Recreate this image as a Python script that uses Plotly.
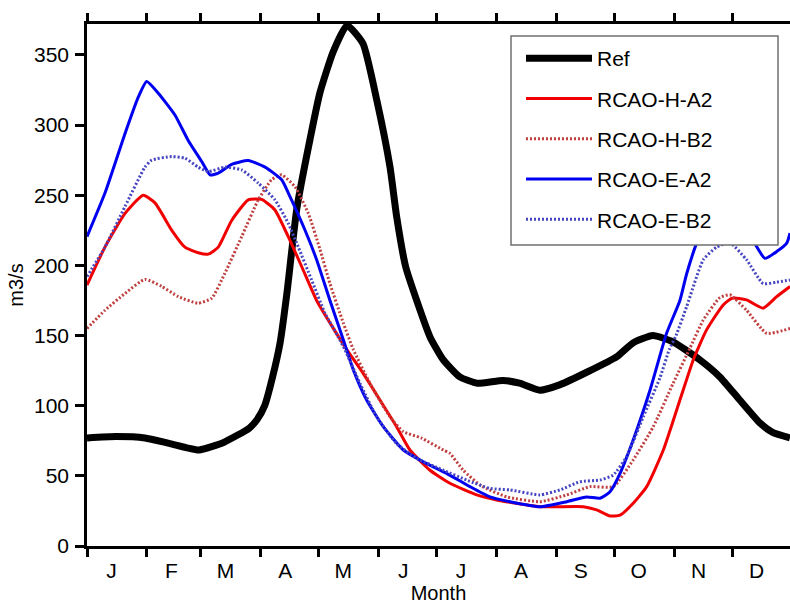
import plotly.graph_objects as go

# Day-of-year sample points and discharge (m3/s) for each series
ref_day = [0, 15, 30, 43, 58, 71, 84, 88, 92, 96, 100, 103.5, 108.6, 115.5, 120.6, 127.4,
           134.6, 142.9, 150, 156.9, 160.3, 165, 170.7, 177.6, 184.3, 193, 202, 215.4, 224,
           234.5, 245, 259, 274.4, 282.7, 293, 303.4, 317.4, 327.7, 338, 348.4, 355, 364]
ref_val = [77, 78, 77, 73, 68.5, 74, 84, 90, 100, 120, 145, 180, 240, 290, 323, 352,
           371, 358, 318, 270, 235, 199, 175, 149, 133, 120.5, 116, 118, 116,
           111, 115, 124, 135, 144.7, 150, 145.5, 132.6, 120.5, 104, 87.7, 81, 77]

ha2_day = [0, 9.3, 19.7, 29.1, 35.2, 43.9, 50.7, 57.6, 62.8, 68, 74.9, 83.5, 90.4, 97.3,
           104.2, 111.2, 118.9, 125.8, 134.5, 143, 151.7, 160.3, 167.2, 177.6, 187.9, 201.8,
           212.1, 234.5, 257, 263.9, 270.8, 276, 282.8, 289.8, 298.4, 307, 313.9, 320.8,
           329.4, 334, 341.5, 350.1, 357.1, 364]
ha2_val = [186, 213, 237, 250, 244.5, 225, 213, 209, 208, 213, 232, 246.7, 247, 239.5,
           220.5, 199, 175, 159, 140, 123, 104, 85, 68.4, 54, 44.7, 36.4,
           32.8, 28, 28, 25.7, 21.4, 22, 30.4, 42.3, 68.4, 104, 132.6, 154,
           171.8, 176.6, 175.4, 169.5, 177.7, 184.9]

hb2_day = [0, 9.3, 19.7, 30, 38.7, 47.3, 57.6, 64.6, 71.4, 80.1, 88.7, 95.6, 100.8, 107.7,
           114.6, 120.5, 125.8, 132.7, 137.9, 146.5, 156.9, 163.8, 173, 184.5, 187.9, 194.8,
           204, 217.3, 234.5, 248.4, 260.4, 272.5, 282.8, 293.2, 303.5, 312.2, 319.1, 327.7,
           332.9, 341.5, 351.9, 364]
hb2_val = [155, 168, 180, 190, 185, 177.7, 173, 176.6, 194.4, 220.5, 246.7, 261, 264.5, 256,
           237, 212, 187, 159, 140, 116, 92, 81.5, 77, 68.4, 66, 54,
           43, 35, 31.6, 36.4, 42.3, 42.3, 61.3, 85, 116, 141, 161, 177,
           179, 168, 151.6, 155]

ea2_day = [0, 9.3, 19.7, 26.6, 30.9, 36.9, 45.6, 52.4, 59.4, 63.7, 68, 74.9, 83.5, 92.2,
           100.8, 105.1, 112.9, 118.9, 125.8, 132.7, 137.9, 144.8, 153.4, 163.8, 174.1, 186.2,
           198.3, 208.6, 219, 234.5, 248.4, 258.7, 265.6, 270.8, 276, 282.8, 291.5, 300.1,
           307, 310.5, 315.7, 322, 328, 335, 341, 346.7, 351, 357.1, 362.3, 364]
ea2_val = [220.5, 251.5, 294, 320, 331, 322.7, 307, 289, 274, 264.5, 265.7, 272, 274.7, 270,
           261, 249, 225, 204, 175, 147, 125.5, 104, 85, 68.4, 60, 51.8,
           42.3, 35, 31.6, 28, 31.6, 35, 34, 38.7, 51.8, 75.6, 111, 151.6,
           175, 194, 216, 235, 242, 238, 228, 213.4, 205, 209.8, 215.8, 223]

eb2_day = [0, 9.3, 19.7, 30, 33.5, 43.9, 50.7, 57.6, 62.8, 71.4, 80.1, 88.7, 97.3, 104.2,
           109.4, 116.3, 123.2, 130.1, 133.5, 141.3, 150, 160.3, 170.7, 184.5, 196.6, 208.6,
           219, 234.5, 244.9, 255.2, 265.6, 272.5, 279.4, 288, 296.7, 301.5, 305, 310.5,
           319.1, 326, 332.9, 341.5, 350.1, 357, 364]
eb2_val = [192, 213, 242, 270, 275, 277.5, 276.4, 270, 266.8, 270, 268, 258.6, 246.7, 230,
           213, 189.6, 166, 149, 140, 116, 92, 73, 62.5, 54, 47, 41,
           40, 36.4, 40, 45.8, 47, 50.6, 63.7, 92, 120, 140, 150, 170.6,
           204, 213, 216, 204, 187, 188, 189.6]

month_starts = [0, 31, 59, 90, 120, 151, 181, 212, 243, 273, 304, 334]
month_letters = ["J", "F", "M", "A", "M", "J", "J", "A", "S", "O", "N", "D"]
y_ticks = [0, 50, 100, 150, 200, 250, 300, 350]

FONT = "Liberation Sans, Arial, sans-serif"
X_RANGE = [0, 364]
Y_RANGE = [0, 372]

# plot-area geometry in pixels (used to place the legend frame)
W, H = 790, 604
ML, MR, MT, MB = 87, 0, 24, 58
PW, PH = W - ML - MR, H - MT - MB


def px_x(p):
    return (p - ML) / PW


def px_y(p):
    return (H - MB - p) / PH


series = [
    ("Ref", ref_day, ref_val, dict(color="black", width=7)),
    ("RCAO-H-A2", ha2_day, ha2_val, dict(color="#f00000", width=3)),
    ("RCAO-H-B2", hb2_day, hb2_val, dict(color="#c04040", width=3, dash="2px,2px")),
    ("RCAO-E-A2", ea2_day, ea2_val, dict(color="#0000f0", width=3)),
    ("RCAO-E-B2", eb2_day, eb2_val, dict(color="#4646c0", width=3, dash="2px,2px")),
]

fig = go.Figure()
for name, xs, ys, line in series:
    fig.add_trace(go.Scatter(
        x=xs, y=ys, mode="lines", name=name, legendgroup=name,
        line=dict(shape="spline", smoothing=0.5, **line),
    ))

# invisible trace that carries the month-letter axis
fig.add_trace(go.Scatter(x=X_RANGE, y=[None, None], xaxis="x2", showlegend=False,
                         hoverinfo="skip"))

axis_line = dict(showline=True, linecolor="black", linewidth=2.5,
                 showgrid=False, zeroline=False)

# white legend frame with grey border, drawn over the curves
fig.add_shape(type="rect", xref="paper", yref="paper",
              x0=px_x(511), x1=px_x(778), y0=px_y(245), y1=px_y(36),
              fillcolor="white", line=dict(color="#707070", width=1.5), layer="above")

fig.update_layout(
    width=W, height=H,
    margin=dict(l=ML, r=MR, t=MT, b=MB),
    paper_bgcolor="white", plot_bgcolor="white",
    font=dict(family=FONT, size=21, color="black"),
    xaxis=dict(range=X_RANGE, tickmode="array", tickvals=month_starts,
               showticklabels=False, ticks="outside", ticklen=8, tickwidth=2.5,
               tickcolor="black", mirror="ticks", **axis_line),
    xaxis2=dict(range=X_RANGE, overlaying="x", anchor="y", side="bottom",
                tickmode="array", tickvals=[d + 12.7 for d in month_starts],
                ticktext=month_letters, ticks="", showline=False, showgrid=False,
                zeroline=False, tickfont=dict(size=21), ticklabelstandoff=10,
                title=dict(text="Month", font=dict(size=20), standoff=8)),
    yaxis=dict(range=Y_RANGE, tickmode="array", tickvals=y_ticks,
               ticks="outside", ticklen=9, tickwidth=2.5, tickcolor="black",
               tickfont=dict(size=21), ticklabelstandoff=2,
               title=dict(text="m3/s", font=dict(size=20), standoff=6),
               **axis_line),
    legend=dict(x=px_x(521), y=px_y(38), xanchor="left", yanchor="top",
                bgcolor="rgba(0,0,0,0)", borderwidth=0,
                font=dict(size=21), tracegroupgap=10, itemwidth=66,
                traceorder="grouped"),
    showlegend=True,
)

fig.write_html("out.html")
